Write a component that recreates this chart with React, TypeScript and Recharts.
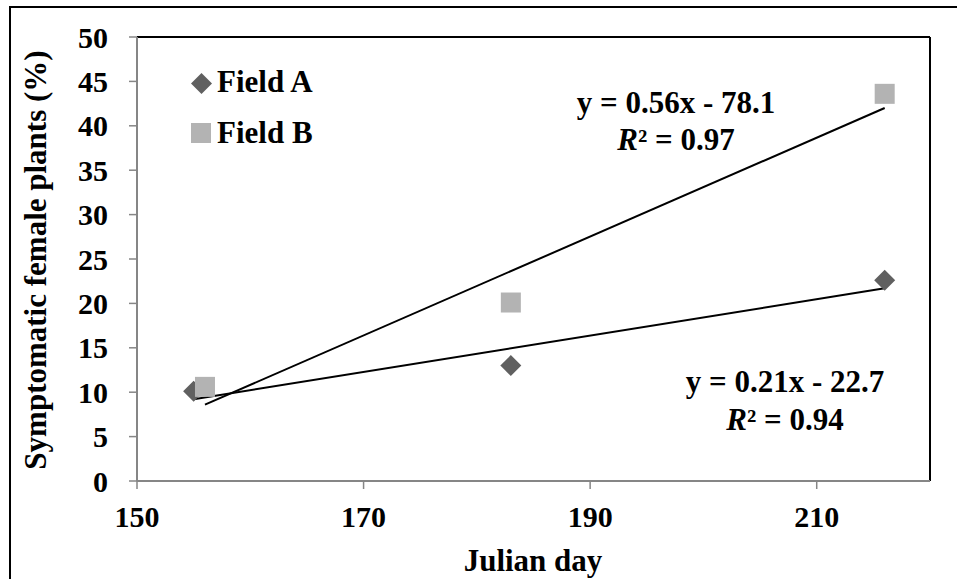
import React from 'react';
import { ScatterChart, Scatter, XAxis, YAxis, ReferenceLine, Legend, Label } from 'recharts';

const fieldADays = [155, 183, 216];
const fieldAValues = [10.1, 13.0, 22.6];
const fieldBDays = [156, 183, 216];
const fieldBValues = [10.6, 20.1, 43.6];
const trendADays = [155, 216];
const trendAValues = [9.2, 21.7];
const trendBDays = [156, 216];
const trendBValues = [8.6, 42.0];
const xTicks = [150, 170, 190, 210];
const yTicks = [0, 5, 10, 15, 20, 25, 30, 35, 40, 45, 50];
const seriesNames = ['Field A', 'Field B'];
const equationA = ['y = 0.21x - 22.7', '0.94'];
const equationB = ['y = 0.56x - 78.1', '0.97'];

const COLOR_A = '#606060';
const COLOR_B = '#b3b3b3';
const AXIS_GRAY = '#868686';
const FONT = "'Liberation Serif', 'Noto Serif', 'Noto Serif CJK SC', 'Noto Serif CJK JP', 'DejaVu Serif', FreeSerif, 'Nimbus Roman', Georgia, serif";

const dataA = fieldADays.map((x, i) => ({ x, y: fieldAValues[i] }));
const dataB = fieldBDays.map((x, i) => ({ x, y: fieldBValues[i] }));
const segA = trendADays.map((x, i) => ({ x, y: trendAValues[i] }));
const segB = trendBDays.map((x, i) => ({ x, y: trendBValues[i] }));

const Diamond = (props: any) => {
  const { cx, cy } = props;
  const r = 10.5;
  return <polygon points={`${cx},${cy - r} ${cx + r},${cy} ${cx},${cy + r} ${cx - r},${cy}`} fill={COLOR_A} />;
};
const Square = (props: any) => {
  const { cx, cy } = props;
  const s = 20;
  return <rect x={cx - s / 2} y={cy - s / 2} width={s} height={s} fill={COLOR_B} />;
};

const tickStyle = { fontFamily: FONT, fontWeight: 'bold', fontSize: 30, fill: '#000', style: { fontFamily: FONT } };

const renderLegend = () => (
  <div style={{ position: 'relative', width: 0, height: 0 }}>
    <div style={{ position: 'absolute', left: 0, top: 0, width: 300, height: 100 }}>
      <svg width={300} height={100} style={{ position: 'absolute', left: 0, top: 0, overflow: 'visible' }}>
        <polygon points="10.5,0 21,10.5 10.5,21 0,10.5" fill={COLOR_A} transform="translate(191,73)" />
        <text x={217} y={92} style={{ fontFamily: FONT }} fontWeight="bold" fontSize={31} fill="#000">{seriesNames[0]}</text>
        <rect x={191} y={123} width={20} height={20} fill={COLOR_B} />
        <text x={217} y={143} style={{ fontFamily: FONT }} fontWeight="bold" fontSize={31} fill="#000">{seriesNames[1]}</text>
      </svg>
    </div>
  </div>
);

const Equation = ({ cx, y1, y2, eq }: { cx: number; y1: number; y2: number; eq: string[] }) => (
  <g style={{ fontFamily: FONT }} fontWeight="bold" fontSize={31} fill="#000">
    <text x={cx} y={y1} textAnchor="middle">{eq[0]}</text>
    <text x={cx} y={y2} textAnchor="middle">
      <tspan fontStyle="italic">R</tspan>
      <tspan>{'² = ' + eq[1]}</tspan>
    </text>
  </g>
);

export default function App() {
  return (
    <div style={{ position: 'absolute', left: 0, top: 0, width: 957, height: 579, background: '#fff', overflow: 'hidden', fontFamily: FONT }}>
      <div style={{ position: 'absolute', left: 9, top: 6, width: 957, height: 579, borderLeft: '2px solid #000', borderTop: '2px solid #000', boxSizing: 'border-box' }} />
      <div style={{ position: 'absolute', left: 0, top: 0 }}>
        <ScatterChart width={957} height={579} margin={{ top: 37, right: 27, bottom: 0, left: 0 }} style={{ fontFamily: FONT }}>
          <XAxis
            type="number"
            dataKey="x"
            domain={[150, 220]}
            ticks={xTicks}
            height={98}
            tickSize={8}
            tickMargin={17}
            tick={tickStyle}
            axisLine={{ stroke: AXIS_GRAY, strokeWidth: 2 }}
            tickLine={{ stroke: AXIS_GRAY, strokeWidth: 1.5 }}
            allowDataOverflow
          >
            <Label
              content={() => (
                <text x={533} y={571} textAnchor="middle" style={{ fontFamily: FONT }} fontWeight="bold" fontSize={31} fill="#000">
                  Julian day
                </text>
              )}
            />
          </XAxis>
          <YAxis
            type="number"
            dataKey="y"
            domain={[0, 50]}
            ticks={yTicks}
            width={137}
            tickSize={8}
            tickMargin={21}
            tick={tickStyle}
            axisLine={{ stroke: AXIS_GRAY, strokeWidth: 2 }}
            tickLine={{ stroke: AXIS_GRAY, strokeWidth: 1.5 }}
            allowDataOverflow
          >
            <Label
              content={() => (
                <text x={46} y={260} transform="rotate(-90, 46, 260)" textAnchor="middle" style={{ fontFamily: FONT }} fontWeight="bold" fontSize={31} fill="#000">
                  Symptomatic female plants (%)
                </text>
              )}
            />
          </YAxis>
          <ReferenceLine y={50} stroke="#000" strokeWidth={2} />
          <ReferenceLine x={220} stroke="#000" strokeWidth={2} />
          <Scatter name={seriesNames[0]} data={dataA} shape={<Diamond />} isAnimationActive={false} />
          <Scatter name={seriesNames[1]} data={dataB} shape={<Square />} isAnimationActive={false} />
          <ReferenceLine segment={segA} stroke="#000" strokeWidth={2} />
          <ReferenceLine segment={segB} stroke="#000" strokeWidth={2} />
          <Legend
            layout="vertical"
            align="center"
            verticalAlign="middle"
            content={renderLegend}
            wrapperStyle={{ left: 0, top: 0, width: 0, height: 0 }}
          />
        </ScatterChart>
      </div>
      <svg width={957} height={579} style={{ position: 'absolute', left: 0, top: 0, pointerEvents: 'none' }}>
        <Equation cx={676} y1={113} y2={150} eq={equationB} />
        <Equation cx={785} y1={392} y2={430} eq={equationA} />
      </svg>
    </div>
  );
}
